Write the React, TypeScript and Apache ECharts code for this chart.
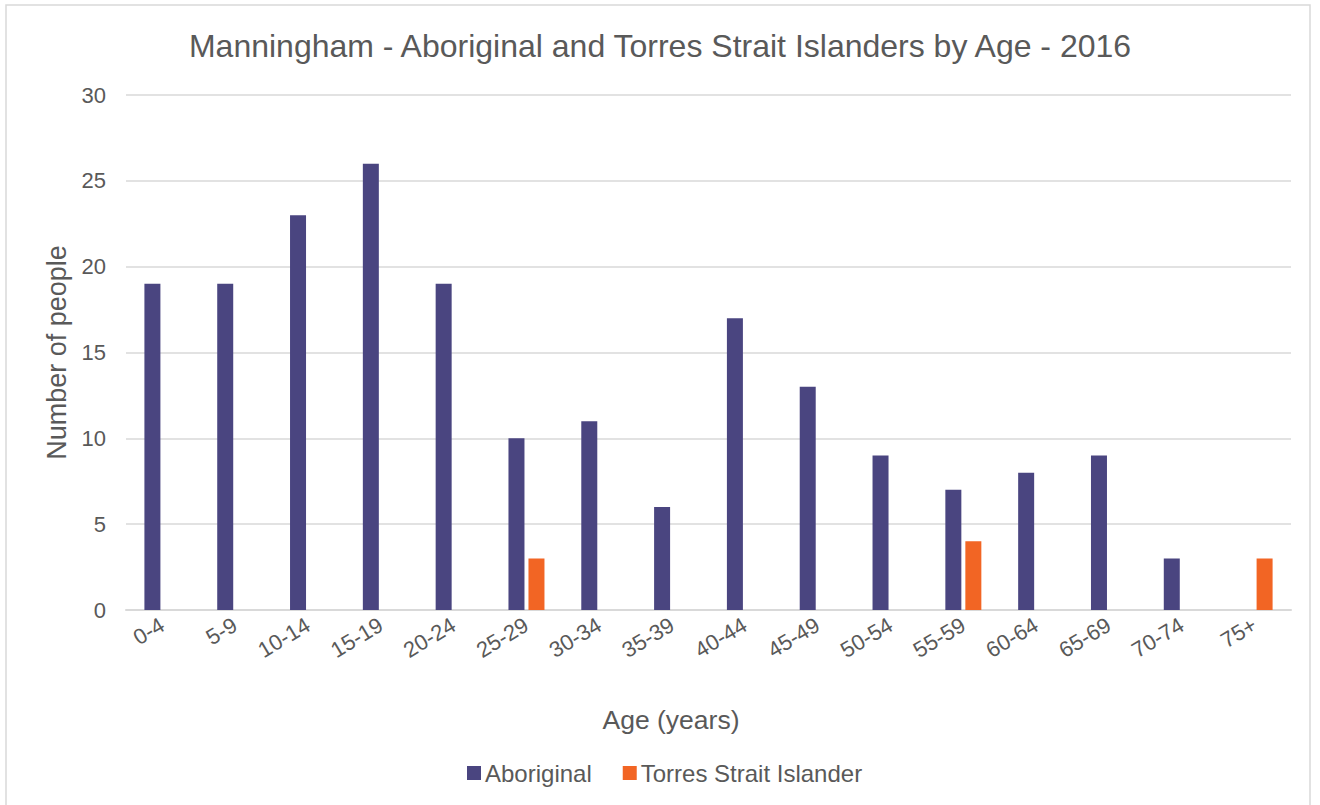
import React, { useEffect, useRef } from "react";
import * as echarts from "echarts";

const ageGroups = [
  "0-4", "5-9", "10-14", "15-19", "20-24", "25-29", "30-34", "35-39",
  "40-44", "45-49", "50-54", "55-59", "60-64", "65-69", "70-74", "75+",
];
const aboriginal = [19, 19, 23, 26, 19, 10, 11, 6, 17, 13, 9, 7, 8, 9, 3, 0];
const torresStrait = [0, 0, 0, 0, 0, 3, 0, 0, 0, 0, 0, 4, 0, 0, 0, 3];
const seriesNames = ["Aboriginal", "Torres Strait Islander"];
const yTicks = { min: 0, max: 30, interval: 5 };

const TEXT = "#595959";
const GRID = "#d9d9d9";
const FONT = "'Liberation Sans', Arial, sans-serif";

export default function App() {
  const ref = useRef<HTMLDivElement>(null);

  useEffect(() => {
    if (!ref.current) return;
    const chart = echarts.init(ref.current, null, { renderer: "svg" });
    chart.setOption({
      animation: false,
      backgroundColor: "#ffffff",
      textStyle: { fontFamily: FONT },
      title: {
        text: "Manningham - Aboriginal and Torres Strait Islanders by Age - 2016",
        left: "center",
        top: 25,
        textStyle: { color: TEXT, fontSize: 32, fontWeight: "normal", fontFamily: FONT },
      },
      legend: {
        left: 462,
        top: 756,
        itemWidth: 14,
        itemHeight: 14,
        itemGap: 31,
        icon: "rect",
        textStyle: { color: TEXT, fontSize: 24, fontFamily: FONT, padding: [0, 0, 0, -1] },
        data: seriesNames,
      },
      grid: { left: 126, right: 29, top: 95, bottom: 195, containLabel: false },
      xAxis: {
        type: "category",
        data: ageGroups,
        axisLine: { lineStyle: { color: GRID, width: 2 } },
        axisTick: { show: false },
        axisLabel: {
          rotate: 31,
          margin: 13,
          color: TEXT,
          fontSize: 22,
          fontFamily: FONT,
          interval: 0,
        },
      },
      yAxis: {
        type: "value",
        min: yTicks.min,
        max: yTicks.max,
        interval: yTicks.interval,
        name: "Number of people",
        nameLocation: "middle",
        nameGap: 56,
        nameTextStyle: { color: TEXT, fontSize: 27, fontFamily: FONT },
        axisLine: { show: false },
        axisTick: { show: false },
        axisLabel: { color: TEXT, fontSize: 22, margin: 20, fontFamily: FONT },
        splitLine: { lineStyle: { color: GRID, width: 1.5 } },
      },
      series: [
        {
          name: seriesNames[0],
          type: "bar",
          data: aboriginal,
          barWidth: 16,
          barGap: "25%",
          itemStyle: { color: "#4a4580" },
        },
        {
          name: seriesNames[1],
          type: "bar",
          data: torresStrait,
          barWidth: 16,
          itemStyle: { color: "#f26524" },
        },
      ],
      graphic: [
        {
          type: "rect",
          shape: { x: 6, y: 5, width: 1304, height: 820 },
          style: { fill: "none", stroke: GRID, lineWidth: 1.5 },
          silent: true,
        },
        {
          type: "text",
          x: 671,
          y: 720,
          style: {
            text: "Age (years)",
            fill: TEXT,
            fontSize: 26.5,
            fontFamily: FONT,
            textAlign: "center",
            textVerticalAlign: "middle",
          },
        },
      ],
    });
    return () => chart.dispose();
  }, []);

  return (
    <div
      ref={ref}
      style={{ position: "absolute", left: 0, top: 0, width: 1320, height: 805 }}
    />
  );
}
